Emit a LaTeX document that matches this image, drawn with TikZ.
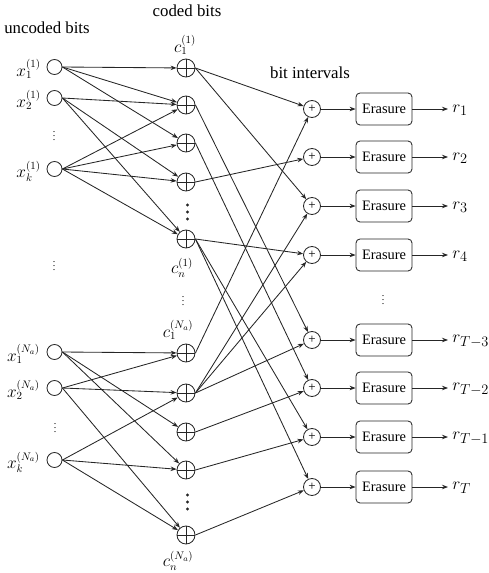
\documentclass[tikz,border=0pt]{standalone}
\usepackage{fontspec}
\setmainfont{Liberation Serif}
\usetikzlibrary{arrows.meta}
\begin{document}
\begin{tikzpicture}[x=1pt,y=-1pt,
  line width=0.85pt, draw=black!85,
  unc/.style={circle,draw,minimum size=15pt,inner sep=0pt},
  xorc/.style={circle,draw,minimum size=18pt,inner sep=0pt,
    path picture={\draw[line width=0.85pt,black!85] (path picture bounding box.north)--(path picture bounding box.south)
      (path picture bounding box.west)--(path picture bounding box.east);}},
  bitc/.style={circle,draw,minimum size=17pt,inner sep=0pt,font=\fontsize{13}{13}\selectfont},
  erbox/.style={rectangle,rounded corners=4pt,draw,minimum width=56pt,minimum height=32pt,inner sep=0pt,font=\fontsize{14.4}{15}\selectfont},
  ttl/.style={font=\fontsize{16.8}{17}\selectfont},
  lbl/.style={font=\fontsize{16}{16}\selectfont,inner sep=0pt},
  rlbl/.style={font=\fontsize{19}{19}\selectfont,inner sep=0pt},
  sdots/.style={font=\fontsize{10}{10}\selectfont,inner sep=0pt},
  arr/.style={-{Stealth[length=6pt,width=4.5pt]}},
]
\useasboundingbox (0,0) rectangle (488,573);
% titles
\node[ttl] (t1) at (47,28) {uncoded bits};
\node[ttl] (t2) at (187,11) {coded bits};
\node[ttl] (t3) at (310,73) {bit intervals};
% uncoded
\node[unc] (u1) at (54.5,67) {};
\node[unc] (u2) at (54.5,98) {};
\node[unc] (uk) at (54.5,169) {};
\node[unc] (v1) at (54.5,352) {};
\node[unc] (v2) at (54.5,388) {};
\node[unc] (vk) at (54.5,460) {};
\node[lbl,anchor=east] (lu1) at (41,69) {$x_1^{(1)}$};
\node[lbl,anchor=east] (lu2) at (41,100) {$x_2^{(1)}$};
\node[lbl,anchor=east] (luk) at (41,171) {$x_k^{(1)}$};
\node[lbl,anchor=east] (lv1) at (40,354) {$x_1^{(N_a)}$};
\node[lbl,anchor=east] (lv2) at (40,390) {$x_2^{(N_a)}$};
\node[lbl,anchor=east] (lvk) at (40,462) {$x_k^{(N_a)}$};
\node[sdots] (du1) at (54,133) {$\vdots$};
\node[sdots] (du2) at (54,263) {$\vdots$};
\node[sdots] (du3) at (55,425) {$\vdots$};
% coded
\node[xorc] (c1) at (186,68) {};
\node[xorc] (c2) at (186,105) {};
\node[xorc] (c3) at (186,143) {};
\node[xorc] (c4) at (186,182) {};
\node[xorc] (cn) at (186,239) {};
\node[xorc] (d1) at (186,353) {};
\node[xorc] (d2) at (186,393) {};
\node[xorc] (d3) at (186,432) {};
\node[xorc] (d4) at (186,470) {};
\node[xorc] (dn) at (186,535) {};
\node[lbl] (lc1) at (185,45) {$c_1^{(1)}$};
\node[lbl] (lcn) at (182,268) {$c_n^{(1)}$};
\node[lbl] (ld1) at (178,330) {$c_1^{(N_a)}$};
\node[lbl] (ldn) at (178,561) {$c_n^{(N_a)}$};
\node[sdots] (dc) at (183,298) {$\vdots$};
\foreach \yy in {205,212,219,495,502,509} \fill[black!85] (187.5,\yy) circle (1.6pt);
% bit intervals
\foreach \i/\yy/\rr in {1/109/r_1,2/157/r_2,3/206/r_3,4/255/r_4,5/340/r_{T-3},6/388/r_{T-2},7/437/r_{T-1},8/487/r_T}{
  \node[bitc] (b\i) at (312,\yy) {+};
  \node[erbox] (e\i) at (384,\yy) {Erasure};
  \node[rlbl,anchor=west] (r\i) at (452,\yy+1) {$\rr$};
  \coordinate (re\i) at (448,\yy);
  \draw[arr] (b\i) -- (e\i);
  \draw[arr] (e\i) -- (re\i);
}
\node[sdots] (db) at (383,297) {$\vdots$};
% uncoded -> coded
\foreach \s/\t in {u1/c1,u1/c2,u1/c3,u2/c2,u2/c4,u2/cn,uk/c2,uk/c3,uk/c4,uk/cn,
                  v1/d1,v1/d3,v1/d4,v2/d1,v2/d2,v2/dn,vk/d2,vk/d4,vk/dn}
  \draw[arr] (\s.east) -- (\t);
% coded -> bit intervals
\foreach \s/\t in {c1/b1,c1/b3,c2/b5,c3/b6,c4/b2,cn/b4,cn/b7,cn/b8,
                  d1/b1,d2/b3,d2/b4,d2/b5,d3/b6,d4/b7,dn/b8}
  \draw[arr] (\s.east) -- (\t);
\end{tikzpicture}
\end{document}
